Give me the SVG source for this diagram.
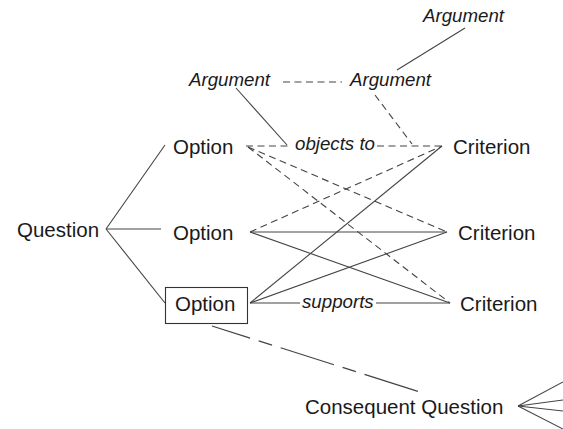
<svg xmlns="http://www.w3.org/2000/svg" width="563" height="429" viewBox="0 0 563 429">
<style>
  .node { font-family: "Liberation Sans", Arial, sans-serif; font-size: 20.5px; fill: #1a1a1a; }
  .lab { font-family: "Liberation Sans", Arial, sans-serif; font-size: 18.7px; font-style: italic; fill: #1a1a1a; }
  .s { stroke: #444; stroke-width: 1.1; fill: none; }
  .d { stroke: #444; stroke-width: 1.1; fill: none; stroke-dasharray: 7 4.5; }
  .ld { stroke: #444; stroke-width: 1.2; fill: none; stroke-dasharray: 56 9 14 9; stroke-dashoffset: 16; }
</style>
<rect width="563" height="429" fill="#ffffff"/>
<g id="connectors">
  <!-- Question to options -->
  <line class="s" x1="106" y1="229" x2="165" y2="145"/>
  <line class="s" x1="106" y1="229" x2="161" y2="229"/>
  <line class="s" x1="106" y1="229" x2="165" y2="303"/>
  <!-- top option -->
  <line class="d" x1="246" y1="146" x2="291" y2="146"/>
  <line class="d" x1="377" y1="146" x2="443" y2="146"/>
  <line class="d" x1="248" y1="147" x2="447" y2="232"/>
  <line class="d" x1="248" y1="147" x2="450" y2="303"/>
  <!-- middle option -->
  <line class="d" x1="250" y1="232" x2="442" y2="146"/>
  <line class="s" x1="250" y1="232" x2="447" y2="232"/>
  <line class="s" x1="250" y1="232" x2="450" y2="303"/>
  <!-- bottom option -->
  <line class="s" x1="250" y1="303" x2="442" y2="146"/>
  <line class="s" x1="250" y1="303" x2="447" y2="232"/>
  <line class="s" x1="250" y1="303" x2="300" y2="303"/>
  <line class="s" x1="376" y1="303" x2="450" y2="303"/>
  <!-- arguments -->
  <line class="s" x1="465" y1="28" x2="397" y2="70"/>
  <line class="s" x1="236" y1="88" x2="287" y2="145"/>
  <line class="d" x1="283" y1="82" x2="342" y2="82"/>
  <line class="d" x1="375" y1="95" x2="412" y2="144"/>
  <!-- consequent -->
  <line class="ld" x1="212" y1="326" x2="420" y2="392"/>
  <line class="s" x1="518" y1="406" x2="563" y2="382"/>
  <line class="s" x1="518" y1="406" x2="563" y2="400"/>
  <line class="s" x1="518" y1="406" x2="563" y2="411"/>
  <line class="s" x1="518" y1="406" x2="563" y2="429"/>
</g>
<g id="question"><text class="node" x="17" y="237">Question</text></g>
<g id="option1"><text class="node" x="173" y="154">Option</text></g>
<g id="option2"><text class="node" x="173" y="239.5">Option</text></g>
<g id="option3">
  <rect x="165.5" y="287.5" width="82" height="36" fill="#ffffff" stroke="#333" stroke-width="1.1"/>
  <text class="node" x="175" y="311">Option</text>
</g>
<g id="criterion1"><text class="node" x="453" y="154">Criterion</text></g>
<g id="criterion2"><text class="node" x="458" y="240">Criterion</text></g>
<g id="criterion3"><text class="node" x="460" y="311">Criterion</text></g>
<g id="argument1"><text class="lab" x="189" y="86">Argument</text></g>
<g id="argument2"><text class="lab" x="350" y="86">Argument</text></g>
<g id="argument3"><text class="lab" x="423" y="22">Argument</text></g>
<g id="label-objects"><text class="lab" x="295" y="149.5">objects to</text></g>
<g id="label-supports"><text class="lab" x="302" y="307.5">supports</text></g>
<g id="consequent"><text class="node" x="305" y="414">Consequent Question</text></g>
</svg>
